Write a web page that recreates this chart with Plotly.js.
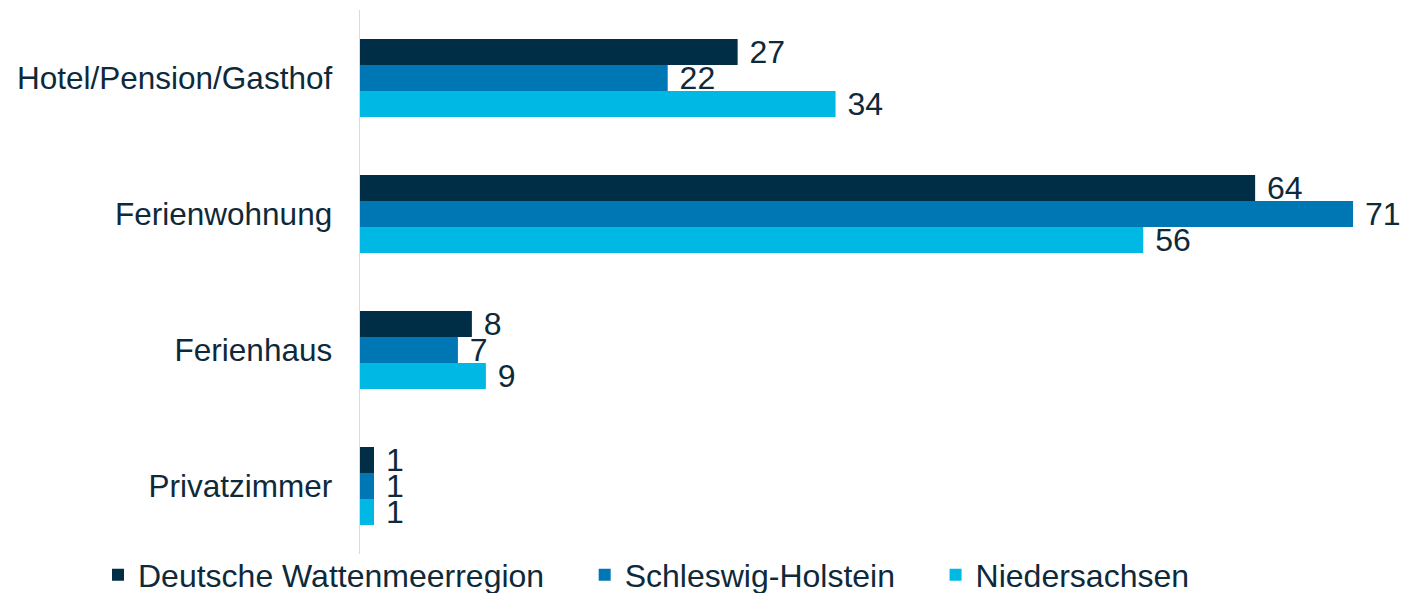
<!DOCTYPE html>
<html>
<head>
<meta charset="utf-8">
<script src="https://cdn.plot.ly/plotly-3.0.1.min.js"></script>
<style>html,body{margin:0;padding:0;background:#fff;overflow:hidden;}#chart{width:1417px;height:630px;}</style>
</head>
<body>
<div id="chart"></div>
<script>
const categories = ["Hotel/Pension/Gasthof", "Ferienwohnung", "Ferienhaus", "Privatzimmer"];
const seriesNames = ["Deutsche Wattenmeerregion", "Schleswig-Holstein", "Niedersachsen"];
const wattenmeer = [27, 64, 8, 1];
const schleswigHolstein = [22, 71, 7, 1];
const niedersachsen = [34, 56, 9, 1];
const colors = ["#002E47", "#0077B5", "#00B8E4"];
const textColor = "#0E2A3A";
const font = "Arial, 'Liberation Sans', sans-serif";

const seriesValues = [wattenmeer, schleswigHolstein, niedersachsen];
const pad = "\u00a0\u00a0\u00a0\u00a0";
const traces = seriesValues.map((vals, i) => ({
  type: "bar",
  orientation: "h",
  name: seriesNames[i] + pad,
  x: vals,
  y: categories,
  marker: {color: colors[i], line: {width: 0}},
  text: vals.map(v => "\u00a0" + v),
  textposition: "outside",
  constraintext: "none",
  cliponaxis: false,
  textfont: {family: font, size: 32, color: textColor},
  hoverinfo: "x+y+name"
}));

// paper is a little taller than the 593px window so the legend fits without auto-margins
const W = 1417, H = 630;
const layout = {
  width: W, height: H,
  margin: {l: 0, r: 0, t: 0, b: 0},
  paper_bgcolor: "#ffffff",
  plot_bgcolor: "#ffffff",
  barmode: "group",
  bargap: 0.4265,
  bargroupgap: 0,
  font: {family: font, size: 32, color: textColor},
  xaxis: {
    domain: [360 / W, 1395 / W],
    range: [0, 74],
    showgrid: false, zeroline: false, showline: false,
    showticklabels: false, ticks: ""
  },
  yaxis: {
    domain: [(H - 554) / H, (H - 10) / H],
    autorange: "reversed",
    showgrid: false, zeroline: false,
    showline: true, linecolor: "#C6E2F2", linewidth: 1.5,
    ticks: "", ticklabelstandoff: 20,
    tickfont: {family: font, size: 31.5, color: textColor},
    automargin: false
  },
  showlegend: true,
  legend: {
    orientation: "h",
    x: 98 / W, xanchor: "left",
    y: (H - 575) / H, yanchor: "middle",
    bgcolor: "rgba(0,0,0,0)",
    borderwidth: 0,
    font: {family: font, size: 32, color: textColor},
    traceorder: "normal"
  }
};

Plotly.newPlot("chart", traces, layout, {displayModeBar: false, staticPlot: true});
</script>
</body>
</html>
